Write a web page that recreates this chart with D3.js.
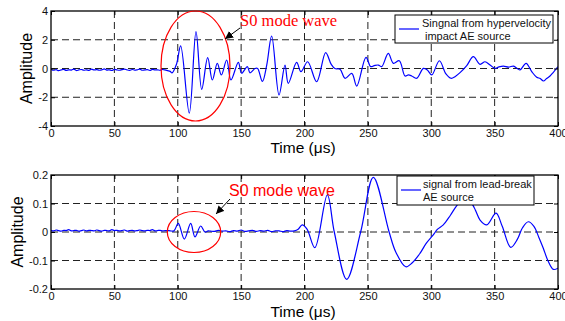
<!DOCTYPE html>
<html>
<head>
<meta charset="utf-8">
<script src="https://cdn.jsdelivr.net/npm/d3@7"></script>
<style>
  body { margin: 0; background: #fff; }
  svg { display: block; font-family: "Liberation Sans", Arial, sans-serif; }
</style>
</head>
<body>
<svg width="565" height="321"></svg>
<script>
// tick labels
const xTicks = [0, 50, 100, 150, 200, 250, 300, 350, 400];
const topYTicks = [-4, -2, 0, 2, 4];
const bottomYTicks = [-0.2, -0.1, 0, 0.1, 0.2];

// hypervelocity impact signal (time in us, amplitude)
const topTime = [0,2,4,6,8,10,12,14,16,18,20,22,24,26,28,30,32,34,36,38,40,42,44,46,48,50,52,54,56,58,60,62,64,66,68,70,72,74,76,78,80,82,84,86,88,90,92,94,
  95.5,99,102.3,109.1,114.4,118.9,123.6,127.3,131.2,134.4,138.6,142,147.8,150.4,154.9,157,161,163,166.8,170.2,174.1,179.9,184.6,187.2,193.8,197.2,202.5,209.6,216.7,221,224,228,232,237.3,241.2,248.5,252.2,255,258.3,260.9,266.1,270.1,274.8,279.3,282,284.6,288.5,293.8,296.9,300.4,306.4,311.6,315.6,319,322.7,328,333.2,338.5,342.4,346.4,350.3,353,356.9,361,364.8,367,370,374.8,379.3,383.2,386,388.5,391,393.7,396,400];
const topAmp = [-0.05,-0.12,-0.08,-0.15,-0.1,-0.06,-0.13,-0.09,-0.11,-0.04,-0.14,-0.1,-0.07,-0.12,-0.09,-0.13,-0.05,-0.1,-0.08,-0.12,-0.1,-0.03,-0.11,-0.09,-0.14,-0.06,-0.1,-0.12,-0.08,-0.04,-0.1,-0.13,-0.07,-0.11,-0.09,-0.05,-0.12,-0.1,-0.08,-0.14,-0.06,-0.1,-0.09,-0.12,-0.07,-0.1,-0.15,-0.2,
  -0.3,0.3,1.57,-3.1,2.56,-1.45,0.75,-0.8,0.36,-0.45,0.59,-0.8,0.43,-0.33,0.13,-0.3,0.0,0.0,-0.9,0.24,2.26,-1.84,0.24,-1.03,0.43,-0.22,0.47,-0.92,1.1,0.3,0.0,-0.05,-0.68,-0.34,-1.22,0.78,0.13,0.2,0.24,0.13,1.05,0.36,0.54,-0.52,-0.45,-0.52,-0.68,0.01,-0.1,-0.45,0.54,-0.38,-0.68,-0.55,-0.29,0.2,0.82,0.29,0.47,0.24,0.01,0.1,0.17,0.1,0.17,0.05,-0.1,0.36,-0.22,-0.61,-0.7,-0.87,-0.7,-0.52,-0.3,0.13];

// lead-break signal
const bottomTime = [0,2,4,6,8,10,12,14,16,18,20,22,24,26,28,30,32,34,36,38,40,42,44,46,48,50,52,54,56,58,60,62,64,66,68,70,72,74,76,78,80,82,84,86,88,90,92,94,
  97,100.4,105.2,110.2,113.6,118.1,121.5,124,126,129,132,135,138,141,144,147,150,153,156,159,162,165,168,171,174,177,180,183,186,189,192,195,198.2,202,208.2,218,223.5,233.3,244.3,254.3,266.7,272,279.9,285,291.1,296,301.6,305,309.5,315,320,326,332,335,338.5,343.8,351.1,356,362.7,368,372,376.6,381,385,388.4,392,396.3,400];
const bottomAmp = [0.006,0.004,0.007,0.005,0.003,0.006,0.005,0.008,0.004,0.005,0.006,0.003,0.005,0.007,0.004,0.006,0.005,0.004,0.007,0.005,0.003,0.006,0.005,0.004,0.008,0.005,0.006,0.004,0.005,0.007,0.003,0.005,0.006,0.004,0.005,0.007,0.005,0.004,0.006,0.005,0.008,0.004,0.005,0.006,0.004,0.005,0.005,0.004,
  0.004,0.03,-0.025,0.03,-0.017,0.021,0.0,0.004,0.003,0.002,0.006,0.003,0.004,0.001,0.005,0.003,0.007,0.002,0.004,0.006,0.002,0.005,0.003,0.006,0.001,0.004,0.004,0.001,0.005,0.003,0.004,0.01,0.025,0.01,-0.055,0.13,0.0,-0.166,0.0,0.192,0.001,-0.07,-0.122,-0.108,-0.075,-0.04,-0.01,0.01,0.025,0.058,0.092,0.12,0.1,0.075,0.042,0.025,0.066,0.02,-0.054,-0.025,0.015,0.036,0.02,-0.02,-0.057,-0.1,-0.131,-0.127];

const svg = d3.select('svg');

const x = d3.scaleLinear().domain([0, 400]).range([51, 558]);

function drawPanel(cfg) {
  const y = d3.scaleLinear().domain(cfg.yDomain).range([cfg.bottom, cfg.top]);
  const g = svg.append('g');

  // dashed grid
  g.selectAll('.gx').data(xTicks.slice(1, -1)).enter().append('line')
    .attr('x1', d => x(d)).attr('x2', d => x(d))
    .attr('y1', cfg.top).attr('y2', cfg.bottom)
    .attr('stroke', '#222').attr('stroke-width', 1).attr('stroke-dasharray', '7,4');
  g.selectAll('.gy').data(cfg.yTicks.slice(1, -1)).enter().append('line')
    .attr('x1', 51).attr('x2', 558)
    .attr('y1', d => y(d)).attr('y2', d => y(d))
    .attr('stroke', '#222').attr('stroke-width', 1).attr('stroke-dasharray', '7,4');

  // signal
  const clipId = 'clip' + cfg.top;
  svg.append('clipPath').attr('id', clipId).append('rect')
    .attr('x', 51).attr('y', cfg.top).attr('width', 507).attr('height', cfg.bottom - cfg.top);
  const pts = cfg.time.map((t, i) => [t, cfg.amp[i]]);
  g.append('path').datum(pts)
    .attr('clip-path', `url(#${clipId})`)
    .attr('fill', 'none').attr('stroke', '#0000ff').attr('stroke-width', 1.2)
    .attr('d', d3.line().x(d => x(d[0])).y(d => y(d[1])).curve(d3.curveCatmullRom.alpha(0.5)));

  // axes (ticks inward)
  const fmt = d => String(d);
  const ax = [
    g.append('g').attr('transform', `translate(0,${cfg.bottom})`)
      .call(d3.axisBottom(x).tickValues(xTicks).tickSize(-4).tickPadding(3).tickFormat(fmt)),
    g.append('g').attr('transform', `translate(51,0)`)
      .call(d3.axisLeft(y).tickValues(cfg.yTicks).tickSize(-4).tickPadding(3).tickFormat(fmt)),
    g.append('g').attr('transform', `translate(0,${cfg.top})`)
      .call(d3.axisTop(x).tickValues(xTicks).tickSize(-4).tickFormat('')),
    g.append('g').attr('transform', `translate(558,0)`)
      .call(d3.axisRight(y).tickValues(cfg.yTicks).tickSize(-4).tickFormat(''))
  ];
  ax.forEach(a => {
    a.select('.domain').remove();
    a.selectAll('line').attr('stroke', '#000');
    a.selectAll('text').attr('fill', '#111').style('font-size', '11px').style('font-family', '"Liberation Sans", Arial, sans-serif');
  });
  g.append('rect').attr('x', 51).attr('y', cfg.top).attr('width', 507).attr('height', cfg.bottom - cfg.top)
    .attr('fill', 'none').attr('stroke', '#000').attr('stroke-width', 1.3);

  // labels
  g.append('text').attr('transform', `translate(${cfg.yLabelX},${(cfg.top + cfg.bottom) / 2}) rotate(-90)`)
    .attr('text-anchor', 'middle').style('font-size', '16px').text('Amplitude');
  g.append('text').attr('x', 303).attr('y', cfg.xLabelY)
    .attr('text-anchor', 'middle').style('font-size', '15.5px').text('Time (\u03bcs)');

  // legend
  const L = cfg.legend;
  g.append('rect').attr('x', L.x).attr('y', L.y).attr('width', L.w).attr('height', L.h)
    .attr('fill', '#fff').attr('stroke', '#000').attr('stroke-width', 1);
  g.append('line').attr('x1', L.x + 4).attr('x2', L.x + 24).attr('y1', L.lineY).attr('y2', L.lineY)
    .attr('stroke', '#0000ff').attr('stroke-width', 1.2);
  L.lines.forEach((s, i) => {
    g.append('text').attr('x', L.textX[i]).attr('y', L.y + 12 + i * 13)
      .style('font-size', '11px').attr('fill', '#111').text(s);
  });

  // annotation
  const A = cfg.note;
  g.append('ellipse').attr('cx', A.cx).attr('cy', A.cy).attr('rx', A.rx).attr('ry', A.ry)
    .attr('fill', 'none').attr('stroke', '#ff0000').attr('stroke-width', 1.2);
  g.append('text').attr('x', A.tx).attr('y', A.ty).attr('fill', '#ff0000')
    .attr('font-family', A.font).style('font-family', A.font)
    .style('font-size', A.fontSize).text('S0 mode wave');
  g.append('line').attr('x1', A.a[0]).attr('y1', A.a[1]).attr('x2', A.a[2]).attr('y2', A.a[3])
    .attr('stroke', '#000').attr('stroke-width', 1).attr('marker-end', 'url(#arrow)');
}

svg.append('defs').append('marker').attr('id', 'arrow')
  .attr('viewBox', '0 0 10 10').attr('refX', 10).attr('refY', 5)
  .attr('markerWidth', 8).attr('markerHeight', 8).attr('markerUnits', 'userSpaceOnUse')
  .attr('orient', 'auto')
  .append('path').attr('d', 'M0,0 L10,5 L0,10 Z').attr('fill', '#000');

drawPanel({
  top: 11, bottom: 126, yDomain: [-4, 4], yTicks: topYTicks,
  time: topTime, amp: topAmp, yLabelX: 32, xLabelY: 153,
  legend: { x: 395, y: 15, w: 158, h: 28, lineY: 29, textX: [422, 425],
    lines: ['Singnal from hypervelocity', 'impact AE source'] },
  note: { cx: 195.5, cy: 66, rx: 34.5, ry: 55, tx: 240, ty: 26,
    fontSize: '16.5px', font: '"Liberation Serif", "Times New Roman", serif', a: [240, 28, 225, 39] }
});

drawPanel({
  top: 175, bottom: 289, yDomain: [-0.2, 0.2], yTicks: bottomYTicks,
  time: bottomTime, amp: bottomAmp, yLabelX: 23, xLabelY: 317,
  legend: { x: 397, y: 176, w: 137, h: 29, lineY: 190, textX: [423, 423],
    lines: ['signal from lead-break', 'AE source'] },
  note: { cx: 194, cy: 232, rx: 26.7, ry: 20.5, tx: 229, ty: 196,
    fontSize: '16px', font: 'Arial, "Liberation Sans", sans-serif', a: [230, 199, 216, 214] }
});
</script>
</body>
</html>
